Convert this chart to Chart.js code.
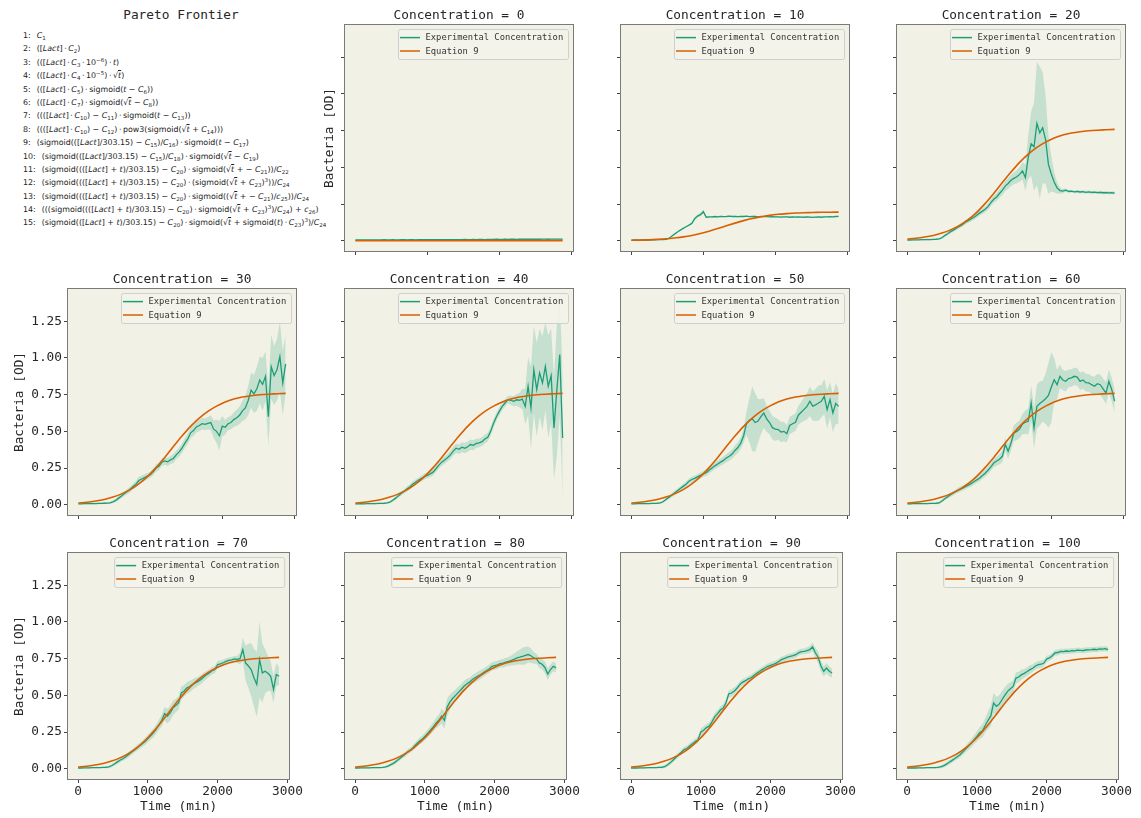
<!DOCTYPE html>
<html><head><meta charset="utf-8">
<script src="https://cdn.jsdelivr.net/npm/chart.js@4.4.0/dist/chart.umd.min.js"></script>
<style>
body{margin:0;background:#fff;width:1141px;height:818px;overflow:hidden;position:relative;}
canvas{position:absolute;}
#ptitle{position:absolute;left:31px;top:6px;width:300px;text-align:center;font-family:'DejaVu Sans Mono';font-size:12.8px;line-height:18px;color:#262626;}
#pareto{position:absolute;left:23px;top:29px;font-family:'DejaVu Sans';font-size:7.9px;line-height:13.4px;color:#222;white-space:nowrap;}
#pareto div{height:13.4px;}
#pareto .n{display:inline-block;margin-right:6px;}
#pareto sub{font-size:70%;vertical-align:-2px;line-height:0;}
#pareto sup{font-size:70%;vertical-align:3px;line-height:0;}
#pareto .ov{text-decoration:overline;}
</style>
</head><body>
<div id="ptitle">Pareto Frontier</div>
<div id="pareto"></div>
<script>
// ---------- DATA ----------
const times = [0,40,80,120,160,200,240,280,320,360,400,440,480,520,560,600,640,680,720,760,800,840,880,920,960,1000,1040,1080,1120,1160,1200,1240,1280,1320,1360,1400,1440,1480,1520,1560,1600,1640,1680,1720,1760,1800,1840,1880,1920,1960,2000,2040,2080,2120,2160,2200,2240,2280,2320,2360,2400,2440,2480,2520,2560,2600,2640,2680,2720,2760,2800,2840,2880];
const modelTimes = [0,120,240,360,480,600,720,840,960,1080,1200,1320,1440,1560,1680,1800,1920,2040,2160,2280,2400,2520,2640,2760,2880];
const concentrations = [0,10,20,30,40,50,60,70,80,90,100];
const seriesNames = ['Experimental Concentration','Equation 9'];
const xTicks = [0,1000,2000,3000];
const xTickLabels = ['0','1000','2000','3000'];
const yTicks = [0,0.25,0.5,0.75,1.0,1.25];
const yTickLabels = ['0.00','0.25','0.50','0.75','1.00','1.25'];

const expConc0 = [0.005,0.005,0.006,0.005,0.005,0.006,0.006,0.005,0.006,0.006,
0.007,0.006,0.006,0.007,0.006,0.006,0.007,0.007,0.006,0.007,
0.007,0.006,0.007,0.007,0.008,0.007,0.007,0.008,0.007,0.008,
0.008,0.007,0.008,0.008,0.007,0.008,0.008,0.008,0.009,0.008,
0.008,0.009,0.008,0.009,0.009,0.008,0.009,0.009,0.009,0.010,
0.009,0.009,0.010,0.009,0.010,0.010,0.009,0.010,0.010,0.010,
0.011,0.010,0.010,0.011,0.010,0.011,0.011,0.010,0.011,0.011,
0.011,0.011,0.011];
const expConc10 = [0.004,0.005,0.005,0.004,0.005,0.006,0.005,0.006,0.006,0.007,
0.007,0.008,0.009,0.015,0.030,0.045,0.060,0.072,0.084,0.095,
0.106,0.118,0.150,0.168,0.178,0.198,0.160,0.163,0.162,0.165,
0.163,0.166,0.164,0.165,0.167,0.165,0.166,0.164,0.166,0.165,
0.167,0.164,0.165,0.166,0.163,0.165,0.164,0.166,0.163,0.164,
0.162,0.163,0.161,0.163,0.162,0.160,0.162,0.161,0.163,0.161,
0.160,0.162,0.161,0.159,0.161,0.162,0.160,0.163,0.162,0.164,
0.163,0.165,0.166];
const expConc20 = [0.005,0.005,0.006,0.006,0.006,0.007,0.007,0.008,0.008,0.009,
0.010,0.012,0.020,0.035,0.048,0.062,0.072,0.085,0.098,0.108,
0.124,0.135,0.146,0.158,0.172,0.188,0.200,0.214,0.232,0.260,
0.282,0.298,0.322,0.345,0.372,0.390,0.412,0.425,0.436,0.452,
0.475,0.430,0.570,0.660,0.640,0.800,0.735,0.770,0.690,0.520,
0.455,0.400,0.360,0.342,0.338,0.345,0.336,0.338,0.333,0.336,
0.332,0.334,0.330,0.333,0.329,0.331,0.328,0.330,0.327,0.328,
0.326,0.327,0.325];
const expConc30 = [0.006,0.006,0.007,0.007,0.007,0.008,0.008,0.009,0.009,0.010,
0.011,0.013,0.020,0.030,0.045,0.060,0.076,0.090,0.105,0.125,
0.140,0.165,0.175,0.185,0.195,0.205,0.225,0.250,0.262,0.290,
0.298,0.292,0.306,0.315,0.340,0.360,0.385,0.420,0.448,0.490,
0.505,0.530,0.540,0.552,0.548,0.555,0.560,0.515,0.500,0.470,
0.535,0.528,0.552,0.560,0.580,0.592,0.610,0.640,0.660,0.710,
0.780,0.755,0.790,0.850,0.820,0.875,0.600,0.940,0.880,0.920,
1.010,0.830,0.960];
const expConc40 = [0.006,0.006,0.007,0.006,0.007,0.007,0.008,0.008,0.009,0.009,
0.010,0.012,0.018,0.030,0.045,0.062,0.078,0.092,0.108,0.122,
0.142,0.155,0.168,0.180,0.192,0.200,0.210,0.222,0.245,0.270,
0.290,0.305,0.320,0.340,0.365,0.385,0.378,0.392,0.385,0.395,
0.410,0.405,0.418,0.422,0.430,0.448,0.460,0.500,0.555,0.600,
0.636,0.670,0.693,0.716,0.712,0.705,0.715,0.712,0.720,0.670,
0.807,0.660,0.920,0.784,0.898,0.830,0.943,0.807,0.880,0.523,
0.784,1.023,0.455];
const expConc50 = [0.006,0.006,0.007,0.007,0.008,0.008,0.008,0.009,0.009,0.010,
0.012,0.020,0.035,0.050,0.065,0.080,0.095,0.110,0.125,0.140,
0.160,0.172,0.180,0.190,0.200,0.210,0.218,0.235,0.250,0.265,
0.278,0.290,0.302,0.318,0.330,0.345,0.370,0.390,0.420,0.470,
0.555,0.575,0.585,0.560,0.570,0.600,0.625,0.585,0.560,0.525,
0.515,0.512,0.495,0.500,0.484,0.540,0.552,0.562,0.610,0.630,
0.650,0.670,0.705,0.672,0.680,0.693,0.705,0.739,0.648,0.716,
0.625,0.690,0.670];
const expConc60 = [0.006,0.006,0.007,0.007,0.007,0.008,0.008,0.008,0.009,0.009,
0.010,0.012,0.025,0.040,0.055,0.068,0.080,0.092,0.103,0.112,
0.122,0.132,0.142,0.155,0.168,0.180,0.198,0.215,0.235,0.258,
0.284,0.298,0.310,0.330,0.410,0.364,0.420,0.489,0.500,0.515,
0.550,0.562,0.568,0.693,0.523,0.670,0.690,0.705,0.722,0.745,
0.800,0.852,0.818,0.875,0.850,0.841,0.860,0.864,0.875,0.870,
0.841,0.850,0.832,0.830,0.818,0.807,0.825,0.818,0.790,0.761,
0.841,0.784,0.705];
const expConc70 = [0.005,0.005,0.006,0.006,0.006,0.007,0.007,0.008,0.008,0.009,
0.010,0.012,0.020,0.032,0.045,0.058,0.068,0.080,0.095,0.110,
0.125,0.140,0.155,0.170,0.185,0.205,0.225,0.245,0.270,0.300,
0.330,0.375,0.358,0.380,0.415,0.430,0.449,0.517,0.530,0.551,
0.560,0.575,0.585,0.595,0.608,0.625,0.640,0.653,0.668,0.676,
0.710,0.715,0.722,0.732,0.738,0.742,0.748,0.745,0.750,0.812,
0.720,0.700,0.676,0.620,0.574,0.744,0.653,0.664,0.650,0.630,
0.540,0.642,0.630];
const expConc80 = [0.005,0.005,0.006,0.006,0.006,0.006,0.007,0.007,0.008,0.008,
0.009,0.012,0.020,0.030,0.040,0.055,0.070,0.085,0.100,0.118,
0.128,0.148,0.168,0.188,0.200,0.220,0.240,0.262,0.285,0.310,
0.330,0.358,0.330,0.420,0.455,0.480,0.500,0.520,0.540,0.562,
0.578,0.590,0.608,0.620,0.632,0.642,0.655,0.668,0.680,0.698,
0.703,0.708,0.717,0.720,0.726,0.732,0.738,0.745,0.755,0.760,
0.766,0.772,0.778,0.770,0.755,0.748,0.721,0.712,0.690,0.645,
0.676,0.698,0.687];
const expConc90 = [0.005,0.005,0.005,0.006,0.006,0.006,0.007,0.007,0.007,0.008,
0.009,0.010,0.014,0.025,0.040,0.058,0.076,0.095,0.112,0.130,
0.138,0.155,0.170,0.185,0.198,0.250,0.262,0.280,0.290,0.320,
0.355,0.375,0.400,0.414,0.450,0.510,0.516,0.530,0.550,0.575,
0.590,0.600,0.612,0.620,0.635,0.650,0.662,0.675,0.686,0.698,
0.705,0.712,0.720,0.732,0.745,0.752,0.760,0.766,0.770,0.777,
0.790,0.798,0.800,0.805,0.812,0.830,0.790,0.760,0.700,0.664,
0.686,0.664,0.652];
const expConc100 = [0.005,0.005,0.005,0.005,0.006,0.006,0.006,0.007,0.007,0.007,
0.008,0.009,0.012,0.020,0.030,0.042,0.055,0.068,0.082,0.095,
0.115,0.135,0.155,0.175,0.198,0.220,0.245,0.258,0.295,0.330,
0.360,0.448,0.425,0.440,0.470,0.500,0.527,0.545,0.561,0.618,
0.625,0.641,0.650,0.662,0.675,0.685,0.700,0.709,0.712,0.720,
0.748,0.755,0.770,0.789,0.792,0.800,0.798,0.802,0.800,0.804,
0.803,0.808,0.807,0.805,0.809,0.810,0.811,0.814,0.812,0.816,
0.815,0.818,0.811];

// half-width of the confidence band
const ciConc0 = [0.003,0.003,0.003,0.003,0.003,0.003,0.003,0.003,0.003,0.003,
0.003,0.003,0.003,0.003,0.003,0.003,0.003,0.003,0.003,0.003,
0.003,0.003,0.003,0.003,0.003,0.003,0.003,0.003,0.003,0.003,
0.003,0.003,0.003,0.003,0.003,0.003,0.003,0.003,0.003,0.003,
0.003,0.003,0.003,0.003,0.003,0.003,0.003,0.003,0.003,0.003,
0.003,0.003,0.003,0.003,0.003,0.003,0.003,0.003,0.003,0.003,
0.003,0.003,0.003,0.003,0.003,0.003,0.003,0.003,0.003,0.003,
0.003,0.003,0.003];
const ciConc10 = [0.003,0.003,0.003,0.003,0.003,0.003,0.003,0.003,0.003,0.003,
0.003,0.003,0.003,0.003,0.003,0.003,0.003,0.003,0.003,0.003,
0.003,0.005,0.010,0.010,0.012,0.015,0.008,0.004,0.004,0.004,
0.004,0.004,0.004,0.004,0.004,0.004,0.004,0.004,0.004,0.004,
0.004,0.004,0.004,0.004,0.004,0.004,0.004,0.004,0.004,0.004,
0.004,0.004,0.004,0.004,0.004,0.004,0.004,0.004,0.004,0.004,
0.004,0.004,0.004,0.004,0.004,0.004,0.004,0.004,0.004,0.004,
0.004,0.004,0.004];
const ciConc20 = [0.004,0.004,0.004,0.004,0.004,0.005,0.005,0.005,0.005,0.005,
0.005,0.006,0.008,0.010,0.010,0.012,0.012,0.012,0.014,0.014,
0.015,0.015,0.016,0.016,0.018,0.018,0.020,0.020,0.022,0.024,
0.025,0.028,0.030,0.032,0.035,0.038,0.040,0.040,0.045,0.050,
0.060,0.090,0.150,0.220,0.300,0.420,0.450,0.380,0.300,0.200,
0.120,0.070,0.040,0.020,0.015,0.012,0.010,0.010,0.010,0.010,
0.010,0.010,0.010,0.010,0.010,0.010,0.010,0.010,0.010,0.010,
0.010,0.010,0.010];
const ciConc30 = [0.004,0.004,0.004,0.004,0.004,0.005,0.005,0.005,0.005,0.005,
0.006,0.006,0.008,0.010,0.012,0.014,0.016,0.018,0.020,0.020,
0.022,0.025,0.025,0.024,0.022,0.022,0.024,0.025,0.025,0.026,
0.026,0.028,0.028,0.030,0.030,0.032,0.032,0.034,0.035,0.036,
0.036,0.038,0.038,0.040,0.040,0.042,0.050,0.060,0.080,0.100,
0.070,0.050,0.045,0.045,0.050,0.055,0.060,0.070,0.080,0.100,
0.120,0.130,0.150,0.160,0.180,0.170,0.200,0.220,0.200,0.210,
0.240,0.220,0.200];
const ciConc40 = [0.004,0.004,0.004,0.004,0.004,0.005,0.005,0.005,0.005,0.005,
0.006,0.006,0.008,0.010,0.012,0.014,0.015,0.016,0.018,0.018,
0.018,0.018,0.018,0.020,0.020,0.020,0.022,0.022,0.022,0.024,
0.024,0.025,0.026,0.028,0.030,0.032,0.032,0.034,0.035,0.035,
0.035,0.034,0.032,0.030,0.030,0.030,0.030,0.030,0.028,0.028,
0.028,0.026,0.025,0.025,0.030,0.035,0.040,0.050,0.070,0.120,
0.200,0.280,0.300,0.320,0.300,0.320,0.300,0.350,0.320,0.350,
0.450,0.420,0.420];
const ciConc50 = [0.004,0.004,0.004,0.004,0.004,0.005,0.005,0.005,0.005,0.005,
0.006,0.008,0.010,0.012,0.014,0.015,0.016,0.016,0.018,0.018,
0.018,0.018,0.020,0.020,0.020,0.020,0.022,0.022,0.024,0.024,
0.025,0.025,0.026,0.028,0.030,0.032,0.035,0.038,0.040,0.050,
0.080,0.150,0.220,0.200,0.150,0.120,0.100,0.090,0.080,0.080,
0.080,0.070,0.070,0.065,0.060,0.060,0.060,0.060,0.065,0.070,
0.080,0.090,0.100,0.100,0.110,0.120,0.110,0.120,0.130,0.120,
0.130,0.140,0.120];
const ciConc60 = [0.004,0.004,0.004,0.004,0.004,0.005,0.005,0.005,0.005,0.005,
0.006,0.008,0.010,0.012,0.014,0.015,0.016,0.016,0.018,0.018,
0.018,0.018,0.020,0.020,0.020,0.022,0.022,0.024,0.025,0.026,
0.028,0.030,0.035,0.040,0.045,0.050,0.050,0.055,0.060,0.060,
0.070,0.080,0.090,0.120,0.140,0.150,0.150,0.140,0.170,0.220,
0.240,0.150,0.100,0.080,0.070,0.070,0.060,0.060,0.060,0.060,
0.060,0.060,0.060,0.060,0.060,0.065,0.065,0.070,0.070,0.075,
0.080,0.080,0.080];
const ciConc70 = [0.004,0.004,0.004,0.004,0.004,0.005,0.005,0.005,0.005,0.005,
0.006,0.008,0.010,0.012,0.014,0.015,0.016,0.016,0.018,0.018,
0.018,0.020,0.020,0.022,0.024,0.026,0.028,0.030,0.032,0.035,
0.040,0.045,0.050,0.050,0.050,0.045,0.045,0.045,0.040,0.040,
0.040,0.035,0.035,0.030,0.030,0.030,0.028,0.025,0.025,0.025,
0.025,0.022,0.022,0.020,0.020,0.020,0.020,0.025,0.040,0.080,
0.120,0.150,0.180,0.200,0.220,0.260,0.200,0.150,0.120,0.100,
0.090,0.080,0.060];
const ciConc80 = [0.004,0.004,0.004,0.004,0.004,0.005,0.005,0.005,0.005,0.005,
0.006,0.008,0.010,0.012,0.014,0.015,0.016,0.016,0.018,0.018,
0.018,0.020,0.020,0.022,0.024,0.026,0.028,0.030,0.032,0.035,
0.040,0.050,0.060,0.060,0.050,0.045,0.040,0.040,0.035,0.035,
0.035,0.030,0.030,0.030,0.030,0.030,0.028,0.028,0.028,0.028,
0.028,0.028,0.028,0.030,0.030,0.030,0.035,0.040,0.045,0.050,
0.060,0.060,0.055,0.050,0.040,0.035,0.035,0.035,0.040,0.040,
0.035,0.035,0.030];
const ciConc90 = [0.004,0.004,0.004,0.004,0.004,0.005,0.005,0.005,0.005,0.005,
0.006,0.008,0.010,0.012,0.014,0.015,0.016,0.016,0.018,0.018,
0.018,0.020,0.020,0.020,0.022,0.025,0.025,0.025,0.025,0.025,
0.025,0.025,0.025,0.025,0.025,0.025,0.025,0.025,0.022,0.022,
0.022,0.020,0.020,0.020,0.020,0.020,0.020,0.020,0.020,0.020,
0.020,0.020,0.020,0.020,0.020,0.020,0.020,0.020,0.020,0.020,
0.020,0.020,0.020,0.022,0.025,0.030,0.035,0.040,0.040,0.035,
0.035,0.035,0.030];
const ciConc100 = [0.004,0.004,0.004,0.004,0.004,0.005,0.005,0.005,0.005,0.005,
0.006,0.008,0.010,0.012,0.014,0.015,0.016,0.016,0.018,0.018,
0.020,0.022,0.025,0.028,0.030,0.035,0.040,0.045,0.050,0.060,
0.070,0.070,0.065,0.060,0.060,0.055,0.050,0.045,0.040,0.040,
0.035,0.035,0.030,0.030,0.030,0.025,0.025,0.025,0.025,0.022,
0.022,0.020,0.020,0.020,0.020,0.018,0.018,0.018,0.018,0.018,
0.018,0.018,0.018,0.018,0.018,0.018,0.018,0.018,0.018,0.018,
0.018,0.018,0.018];

// Equation 9 fitted curves (sampled every 120 min)
const eq9Conc0 = [0.000,0.000,0.000,0.000,0.000,0.000,0.000,0.000,0.000,0.000,0.000,0.000,0.000,0.001,0.001,0.001,0.001,0.001,0.001,0.001,0.001,0.001,0.001,0.001,0.001];
const eq9Conc10 = [0.003,0.004,0.006,0.009,0.013,0.019,0.026,0.036,0.049,0.065,0.083,0.102,0.120,0.137,0.152,0.163,0.173,0.180,0.185,0.189,0.191,0.192,0.194,0.194,0.195];
const eq9Conc20to100 = [0.012,0.017,0.025,0.036,0.052,0.074,0.103,0.142,0.192,0.253,0.322,0.396,0.468,0.534,0.590,0.636,0.672,0.700,0.720,0.734,0.743,0.749,0.753,0.756,0.759];

// ---------- LAYOUT ----------
const COL_LEFT = [68, 345, 621, 897];
const ROW_TOP = [25, 289, 553];
const PLOT_W = 228, PLOT_H = 226;
const AXIS_W = 68, TITLE_H = 25, XAXIS_H = 38, PAD_R = 8;
const GREEN = '#1b9e77', ORANGE = '#d95f02', BAND = 'rgba(27,158,119,0.2)';
const TEXT = '#262626', SPINE = '#7a7a7a', TICK = '#444';
const MONO = 'DejaVu Sans Mono';

const panels = [
  {conc:0, exp:expConc0, ci:ciConc0, eq:eq9Conc0, row:0, col:1, yTitle:true, yTitlePad:45},
  {conc:10, exp:expConc10, ci:ciConc10, eq:eq9Conc10, row:0, col:2},
  {conc:20, exp:expConc20, ci:ciConc20, eq:eq9Conc20to100, row:0, col:3},
  {conc:30, exp:expConc30, ci:ciConc30, eq:eq9Conc20to100, row:1, col:0, yLabels:true, yTitle:true, yTitlePad:12},
  {conc:40, exp:expConc40, ci:ciConc40, eq:eq9Conc20to100, row:1, col:1},
  {conc:50, exp:expConc50, ci:ciConc50, eq:eq9Conc20to100, row:1, col:2},
  {conc:60, exp:expConc60, ci:ciConc60, eq:eq9Conc20to100, row:1, col:3},
  {conc:70, exp:expConc70, ci:ciConc70, eq:eq9Conc20to100, row:2, col:0, yLabels:true, yTitle:true, yTitlePad:12, xLabels:true},
  {conc:80, exp:expConc80, ci:ciConc80, eq:eq9Conc20to100, row:2, col:1, xLabels:true},
  {conc:90, exp:expConc90, ci:ciConc90, eq:eq9Conc20to100, row:2, col:2, xLabels:true},
  {conc:100, exp:expConc100, ci:ciConc100, eq:eq9Conc20to100, row:2, col:3, xLabels:true}
];

const bgPlugin = {
  id:'bg',
  beforeDraw(chart){
    const {ctx, chartArea:a} = chart;
    ctx.save(); ctx.fillStyle = '#f2f1e5';
    ctx.fillRect(a.left, a.top, a.right-a.left, a.bottom-a.top);
    ctx.restore();
  }
};
const framePlugin = {
  id:'frame',
  afterDraw(chart){
    const {ctx, chartArea:a} = chart;
    ctx.save(); ctx.strokeStyle = SPINE; ctx.lineWidth = 1;
    ctx.strokeRect(Math.round(a.left)-0.5, Math.round(a.top)-0.5, Math.round(a.right-a.left)+1, Math.round(a.bottom-a.top)+1);
    ctx.restore();
  }
};
const legendPlugin = {
  id:'boxLegend',
  afterDatasetsDraw(chart){
    const {ctx, chartArea:a} = chart;
    const w = 170, h = 30;
    const x0 = a.right - 5 - w, y0 = a.top + 4;
    ctx.save();
    ctx.beginPath();
    if (ctx.roundRect) ctx.roundRect(x0+0.5, y0+0.5, w, h, 2); else ctx.rect(x0+0.5, y0+0.5, w, h);
    ctx.fillStyle = 'rgba(244,243,234,0.85)'; ctx.fill();
    ctx.strokeStyle = '#cfcfcf'; ctx.lineWidth = 1; ctx.stroke();
    const items = chart.data.datasets.filter(d => seriesNames.includes(d.label));
    items.forEach((d, k) => {
      const y = y0 + 8.6 + k*13.4;
      ctx.beginPath(); ctx.moveTo(x0+2, y); ctx.lineTo(x0+22, y);
      ctx.strokeStyle = d.borderColor; ctx.lineWidth = 1.5; ctx.stroke();
      ctx.fillStyle = '#333'; ctx.font = '8.8px "' + MONO + '"';
      ctx.textBaseline = 'middle'; ctx.textAlign = 'left';
      ctx.fillText(d.label, x0+27.5, y+0.5);
    });
    ctx.restore();
  }
};

panels.forEach(p => {
  const cv = document.createElement('canvas');
  const W = AXIS_W + PLOT_W + PAD_R, H = TITLE_H + PLOT_H + XAXIS_H;
  cv.width = W; cv.height = H;
  cv.style.left = (COL_LEFT[p.col] - AXIS_W) + 'px';
  cv.style.top = (ROW_TOP[p.row] - TITLE_H) + 'px';
  cv.style.width = W + 'px'; cv.style.height = H + 'px';
  document.body.appendChild(cv);

  const expPts = times.map((t,i) => ({x:t, y:p.exp[i]}));
  const upPts = times.map((t,i) => ({x:t, y:p.exp[i] + p.ci[i]}));
  const loPts = times.map((t,i) => ({x:t, y:p.exp[i] - p.ci[i]}));
  const eqPts = modelTimes.map((t,i) => ({x:t, y:p.eq[i]}));
  const tickFont = {family:MONO, size:12.8};

  new Chart(cv, {
    type:'line',
    data:{datasets:[
      {label:'band upper', data:upPts, borderWidth:0, pointRadius:0, fill:'+1', backgroundColor:BAND, borderColor:'rgba(0,0,0,0)', order:3},
      {label:'band lower', data:loPts, borderWidth:0, pointRadius:0, fill:false, borderColor:'rgba(0,0,0,0)', order:3},
      {label:seriesNames[0], data:expPts, borderColor:GREEN, borderWidth:1.3, pointRadius:0, fill:false, order:2},
      {label:seriesNames[1], data:eqPts, borderColor:ORANGE, borderWidth:1.6, pointRadius:0, fill:false, cubicInterpolationMode:'monotone', order:1}
    ]},
    options:{
      responsive:false, animation:false, devicePixelRatio:1,
      layout:{padding:{left:0, right:PAD_R, top:0, bottom:0}},
      plugins:{
        legend:{display:false}, tooltip:{enabled:false},
        title:{display:true, fullSize:false, align:'center', text:'Concentration = ' + p.conc, color:TEXT,
          font:{family:MONO, size:12.8, weight:'normal', lineHeight:1.2}, padding:{top:8, bottom:1.64}}
      },
      scales:{
        x:{type:'linear', min:-144, max:3024,
          afterBuildTicks:s => { s.ticks = xTicks.map(v => ({value:v})); },
          afterFit:s => { s.height = XAXIS_H; },
          ticks:{autoSkip:false, maxRotation:0, minRotation:0, padding:1, color:TEXT, font:tickFont,
            callback:(v,i) => p.xLabels ? xTickLabels[i] : ''},
          grid:{display:true, drawOnChartArea:false, drawTicks:true, tickLength:4, tickColor:TICK, tickWidth:1},
          border:{display:false},
          title:{display:!!p.xLabels, text:'Time (min)', color:TEXT, font:{family:MONO, size:12.8, lineHeight:1.2}, padding:{top:0, bottom:2.3}}
        },
        y:{type:'linear', min:-0.07, max:1.47,
          afterBuildTicks:s => { s.ticks = yTicks.map(v => ({value:v})); },
          afterFit:s => { s.width = AXIS_W; },
          ticks:{autoSkip:false, padding:2, color:TEXT, font:tickFont,
            callback:(v,i) => p.yLabels ? yTickLabels[i] : ''},
          grid:{display:true, drawOnChartArea:false, drawTicks:true, tickLength:4, tickColor:TICK, tickWidth:1},
          border:{display:false},
          title:{display:!!p.yTitle, text:'Bacteria [OD]', color:TEXT, font:{family:MONO, size:12.8, lineHeight:1.2}, padding:{top:p.yTitlePad || 0, bottom:0}}
        }
      }
    },
    plugins:[bgPlugin, legendPlugin, framePlugin]
  });
});

// ---------- Pareto frontier list ----------
const L = '[<i>Lact</i>]';
const C = n => `<i>C</i><sub>${n}</sub>`;
const c = n => `<i>c</i><sub>${n}</sub>`;
const T = '<i>t</i>';
const SQ = '√<span class="ov"><i>t</i></span>';
const D = '&#8201;·&#8201;';
const M = ' − ';
const paretoLines = [
  C(1),
  `(${L}${D}${C(2)})`,
  `((${L}${D}${C(3)}${D}10<sup>−6</sup>)${D}${T})`,
  `((${L}${D}${C(4)}${D}10<sup>−5</sup>)${D}${SQ})`,
  `((${L}${D}${C(5)})${D}sigmoid(${T}${M}${C(6)}))`,
  `((${L}${D}${C(7)})${D}sigmoid(${SQ}${M}${C(8)}))`,
  `(((${L}${D}${C(10)})${M}${C(11)})${D}sigmoid(${T}${M}${C(13)}))`,
  `(((${L}${D}${C(10)})${M}${C(12)})${D}pow3(sigmoid(${SQ} + ${C(14)})))`,
  `(sigmoid((${L}/303.15)${M}${C(15)})/${C(16)})${D}sigmoid(${T}${M}${C(17)})`,
  `(sigmoid((${L}/303.15)${M}${C(15)})/${C(18)})${D}sigmoid(${SQ}${M}${C(19)})`,
  `(sigmoid(((${L} + ${T})/303.15)${M}${C(20)})${D}sigmoid(${SQ} + − ${C(21)}))/${C(22)}`,
  `(sigmoid(((${L} + ${T})/303.15)${M}${C(20)})${D}(sigmoid(${SQ} + ${C(23)})<sup>3</sup>))/${C(24)}`,
  `(sigmoid(((${L} + ${T})/303.15)${M}${C(20)})${D}sigmoid((${SQ} + − ${C(21)})/${c(25)}))/${C(24)}`,
  `(((sigmoid(((${L} + ${T})/303.15)${M}${C(20)})${D}sigmoid(${SQ} + ${C(23)})<sup>3</sup>)/${C(24)}) + ${c(26)})`,
  `(sigmoid((${L} + ${T})/303.15)${M}${C(20)})${D}sigmoid(${SQ} + sigmoid(${T})${D}${C(23)})<sup>3</sup>)/${C(24)}`
];
document.getElementById('pareto').innerHTML =
  paretoLines.map((s,i) => `<div><span class="n">${i+1}:</span>${s}</div>`).join('');
</script>
</body></html>
